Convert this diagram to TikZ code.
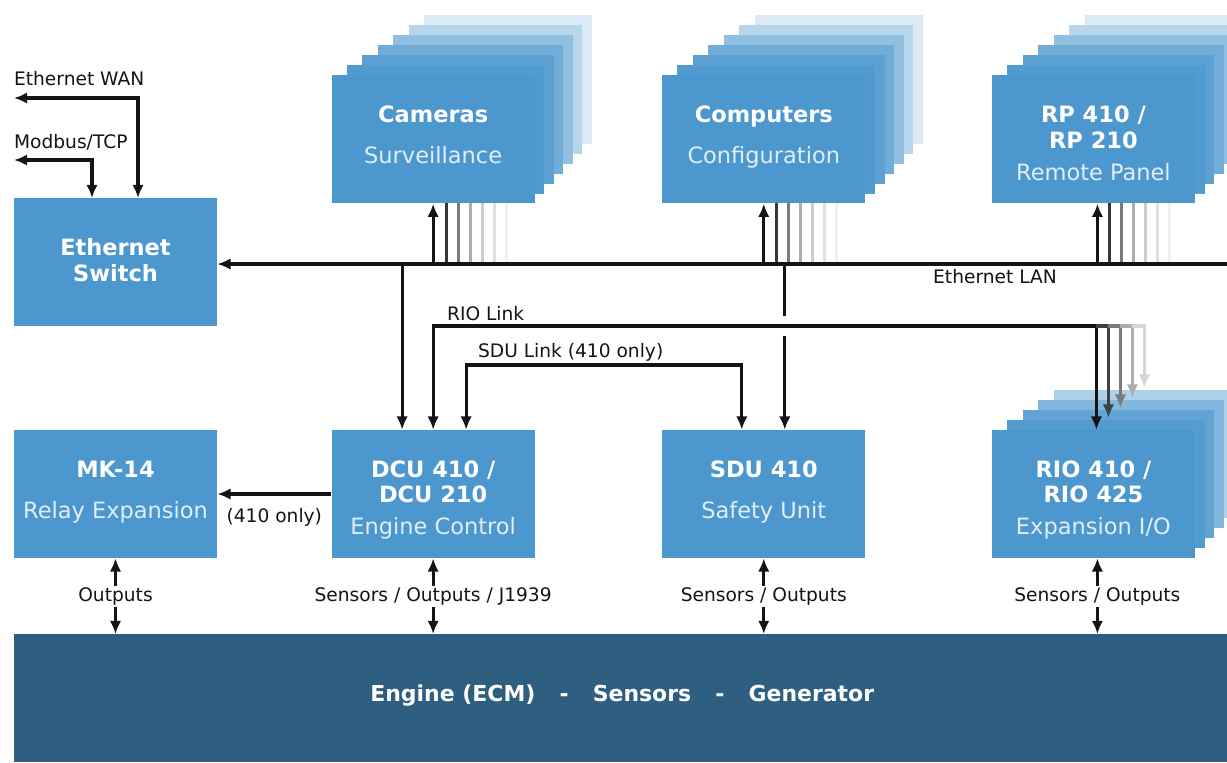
\documentclass[tikz,border=0pt]{standalone}
\usepackage{fontspec}
\setmainfont{DejaVu Sans}
\usepackage{xcolor}
\usetikzlibrary{arrows.meta,positioning,calc}
\definecolor{boxblue}{RGB}{76,152,206}
\definecolor{engineblue}{RGB}{46,95,128}
\definecolor{ink}{RGB}{20,20,20}
\definecolor{subwhite}{RGB}{225,238,248}
\pgfdeclarelayer{background}
\pgfsetlayers{background,main}

\begin{document}
\begin{tikzpicture}[
  x=0.02cm, y=-0.02cm,
  node distance=4.52cm and 2.54cm,
  unitbox/.style={fill=boxblue, text=white, minimum width=4.06cm,
    minimum height=2.56cm, inner sep=0pt, align=center,
    font=\fontsize{12.8}{14.7}\selectfont},
  enginebar/.style={fill=engineblue, text=white, minimum width=24.32cm,
    minimum height=2.56cm, text depth=5.8pt,
    font=\bfseries\fontsize{12.5}{15}\selectfont},
  tag/.style={text=ink, font=\fontsize{10.6}{12}\selectfont, inner sep=1pt},
  link/.style={-{Latex[length=7.5pt,width=6.5pt]}, line width=1.8pt, draw=ink},
  duplex/.style={{Latex[length=7.5pt,width=6.5pt]}-{Latex[length=7.5pt,width=6.5pt]},
    line width=1.8pt, draw=ink}
]
\useasboundingbox (0,0) rectangle (1227,762);

\node[unitbox] (mk) at (115.5,494) {\rule{0pt}{9pt}\textbf{MK-14}\\[8.5pt]\textcolor{subwhite}{Relay Expansion}\rule[-5pt]{0pt}{0pt}};
\node[unitbox, right=2.28cm of mk] (dcu) {\rule{0pt}{16.6pt}\textbf{DCU 410 /}\\\textbf{DCU 210}\\[3.4pt]\textcolor{subwhite}{Engine Control}\rule[-3pt]{0pt}{0pt}};
\node[unitbox, right=of dcu] (sdu) {\rule{0pt}{9pt}\textbf{SDU 410}\\[8.5pt]\textcolor{subwhite}{Safety Unit}\rule[-5pt]{0pt}{0pt}};
\node[unitbox, right=2.52cm of sdu] (rio) {\rule{0pt}{16.6pt}\textbf{RIO 410 /}\\\textbf{RIO 425}\\[3.4pt]\textcolor{subwhite}{Expansion I/O}\rule[-3pt]{0pt}{0pt}};
\node[unitbox, above=of dcu] (cams) {\rule{0pt}{9pt}\textbf{Cameras}\\[8.5pt]\textcolor{subwhite}{Surveillance}\rule[-5pt]{0pt}{0pt}};
\node[unitbox, above=of sdu] (comps) {\rule{0pt}{9pt}\textbf{Computers}\\[8.5pt]\textcolor{subwhite}{Configuration}\rule[-5pt]{0pt}{0pt}};
\node[unitbox, above=of rio] (rp) {\rule{0pt}{16.6pt}\textbf{RP 410 /}\\\textbf{RP 210}\\[3.4pt]\textcolor{subwhite}{Remote Panel}\rule[-3pt]{0pt}{0pt}};
\node[unitbox, above=2.06cm of mk] (eswitch) {\textbf{Ethernet}\\\textbf{Switch}\rule[-3pt]{0pt}{0pt}};
\node[enginebar, anchor=north west] (engine) at (14,634) {Engine (ECM)\hspace{1.1em}-\hspace{1.1em}Sensors\hspace{1.1em}-\hspace{1.1em}Generator};

% stacked units behind the front boxes
\begin{pgfonlayer}{background}
\foreach \u/\o in {cams/1, comps/1, rp/4} {
  \foreach \k/\p/\q in {6/20/6, 5/40/12, 4/62/20, 3/80/32, 2/91/52, 1/97/78} {
    \fill[boxblue!\p!white] ($(\u.north west)+(15.5*\k,-10*\k)$) rectangle ($(\u.south east)+(9.5*\k,-10*\k)$);
    \draw[line width=1.8pt, black!\q!white] ($(\u.south)+(\o+12*\k,60)$) -- ($(\u.south)+(\o+12*\k,-10*\k)$);
  }
}
\foreach \k/\p in {4/45, 3/70, 2/88, 1/96}
  \fill[boxblue!\p!white] ($(rio.north west)+(15.5*\k,-10*\k)$) rectangle ($(rio.south east)+(9.5*\k,-10*\k)$);
\end{pgfonlayer}

% Ethernet LAN
\coordinate (lanend) at (1227,264);
\coordinate (rpin) at ($(rp.south)+(4,0)$);
\coordinate (dculan) at ($(dcu.north)+(-31,0)$);
\coordinate (sdulan) at ($(sdu.north)+(21,0)$);
\draw[link] (lanend) -- (lanend -| eswitch.east);
\draw[link] (cams.south |- lanend) -- (cams.south);
\draw[link] (comps.south |- lanend) -- (comps.south);
\draw[link] (rpin |- lanend) -- (rpin);
\draw[link] (dculan |- lanend) -- (dculan);
\node[tag] at (995,277) {Ethernet LAN};

% RIO link
\coordinate (riolink) at (0,326);
\coordinate (rioin) at ($(rio.north)+(3,0)$);
\draw[duplex] (dcu.north) -- (dcu.north |- riolink) -| (rioin);
\foreach \k/\q in {1/75, 2/52, 3/32, 4/16}
  \draw[link, draw=black!\q!white] ($(rioin |- riolink)+(12*\k-12,0)$) -- ($(rioin |- riolink)+(12*\k,0)$) -- ($(rioin)+(12*\k,-10*\k-2)$);
\node[tag, anchor=west] at (445,314) {RIO Link};

% Computers to SDU, broken at the RIO link
\draw[line width=1.8pt, ink] (sdulan |- lanend) -- ($(sdulan |- riolink)+(0,-10)$);
\draw[link] ($(sdulan |- riolink)+(0,10)$) -- (sdulan);

% SDU link
\coordinate (sdulink) at (0,365);
\coordinate (dcusdu) at ($(dcu.north)+(33,0)$);
\coordinate (sdusdu) at ($(sdu.north)+(-22,0)$);
\draw[duplex] (dcusdu) -- (dcusdu |- sdulink) -| (sdusdu);
\node[tag, anchor=west] at (476,352) {SDU Link (410 only)};

% WAN and Modbus
\coordinate (wan) at (14,98);
\coordinate (modbus) at (14,160);
\draw[duplex] (wan) -| ($(eswitch.north)+(22.5,0)$);
\draw[duplex] (modbus) -| ($(eswitch.north)+(-23.5,0)$);
\node[tag, anchor=west] at (12,79) {Ethernet WAN};
\node[tag, anchor=west] at (12,142) {Modbus/TCP};

\draw[link] (dcu.west) -- (mk.east) node[tag, midway, yshift=-0.46cm] {(410 only)};

% to the engine
\coordinate (rioout) at ($(rio.south)+(4,0)$);
\draw[duplex] (mk.south) -- (mk.south |- engine.north) node[tag, midway, fill=white] {Outputs};
\draw[duplex] (dcu.south) -- (dcu.south |- engine.north) node[tag, midway, fill=white] {Sensors / Outputs / J1939};
\draw[duplex] (sdu.south) -- (sdu.south |- engine.north) node[tag, midway, fill=white] {Sensors / Outputs};
\draw[duplex] (rioout) -- (rioout |- engine.north) node[tag, midway, fill=white] {Sensors / Outputs};
\end{tikzpicture}
\end{document}
